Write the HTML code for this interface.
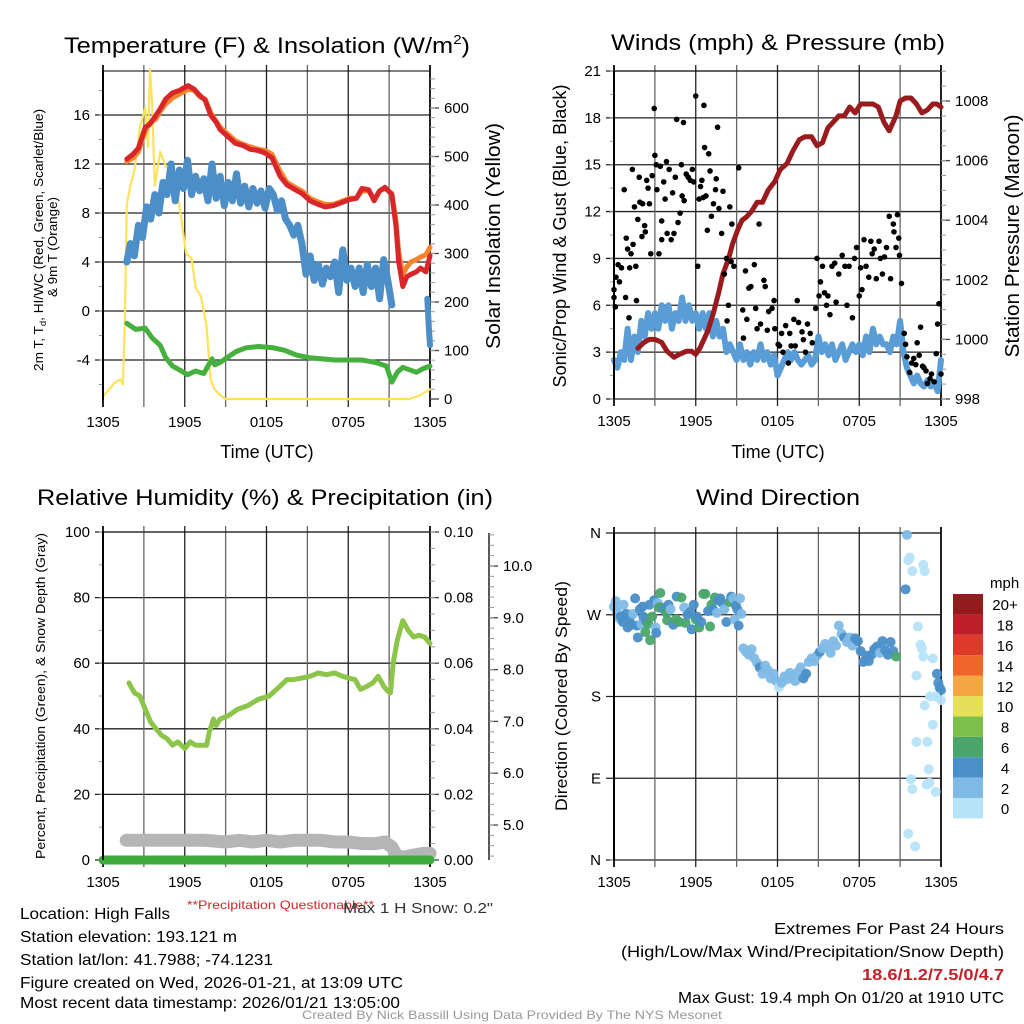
<!DOCTYPE html>
<html><head><meta charset="utf-8"><style>
html,body{margin:0;padding:0;background:#fff;}
svg{display:block;font-family:"Liberation Sans",sans-serif;}
</style></head><body>
<svg id="c" width="1024" height="1024" viewBox="0 0 1024 1024" xmlns="http://www.w3.org/2000/svg">
<g id="p1"></g>
<g id="p2"></g>
<g id="p3"></g>
<g id="p4"></g>
<text x="267" y="53" font-size="22" text-anchor="middle" textLength="406" lengthAdjust="spacingAndGlyphs">Temperature (F) &amp; Insolation (W/m<tspan dy="-9" font-size="13">2</tspan><tspan dy="9">)</tspan></text>
<text x="778" y="50" font-size="22" text-anchor="middle" textLength="334" lengthAdjust="spacingAndGlyphs">Winds (mph) &amp; Pressure (mb)</text>
<text x="265" y="505" font-size="22" text-anchor="middle" textLength="456" lengthAdjust="spacingAndGlyphs">Relative Humidity (%) &amp; Precipitation (in)</text>
<text x="778" y="505" font-size="22" text-anchor="middle" textLength="164" lengthAdjust="spacingAndGlyphs">Wind Direction</text>
<g font-size="16">
<text x="20" y="919" textLength="150" lengthAdjust="spacingAndGlyphs">Location: High Falls</text>
<text x="20" y="942" textLength="217" lengthAdjust="spacingAndGlyphs">Station elevation: 193.121 m</text>
<text x="20" y="965" textLength="253" lengthAdjust="spacingAndGlyphs">Station lat/lon: 41.7988; -74.1231</text>
<text x="20" y="988" textLength="383" lengthAdjust="spacingAndGlyphs">Figure created on Wed, 2026-01-21, at 13:09 UTC</text>
<text x="20" y="1008" textLength="380" lengthAdjust="spacingAndGlyphs">Most recent data timestamp: 2026/01/21 13:05:00</text>
</g>
<g font-size="16" text-anchor="end">
<text x="1004" y="934" textLength="230" lengthAdjust="spacingAndGlyphs">Extremes For Past 24 Hours</text>
<text x="1004" y="957" textLength="383" lengthAdjust="spacingAndGlyphs">(High/Low/Max Wind/Precipitation/Snow Depth)</text>
<text x="1004" y="980" fill="#c8202a" font-weight="bold" textLength="142" lengthAdjust="spacingAndGlyphs">18.6/1.2/7.5/0/4.7</text>
<text x="1004" y="1003" textLength="326" lengthAdjust="spacingAndGlyphs">Max Gust: 19.4 mph On 01/20 at 1910 UTC</text>
</g>
<text x="187" y="909" font-size="12" fill="#d62728" textLength="187" lengthAdjust="spacingAndGlyphs">**Precipitation Questionable**</text>
<text x="343" y="913" font-size="15" fill="#333" textLength="150" lengthAdjust="spacingAndGlyphs">Max 1 H Snow: 0.2"</text>
<text x="512" y="1019" font-size="12" fill="#999" text-anchor="middle" textLength="420" lengthAdjust="spacingAndGlyphs">Created By Nick Bassill Using Data Provided By The NYS Mesonet</text>
</svg>
<script>
// ---------- DATA ----------
const timeTicks = ["1305","1905","0105","0705","1305"];
// Panel 1: temperature (hours since 1305)
const tTemp = [1.75,2.2,2.6,3.1,3.4,3.9,4.2,4.6,5.1,5.6,6.25,6.7,7.1,7.5,7.9,8.3,8.6,9.1,9.7,10.3,10.8,11.4,11.9,12.4,13,13.5,14.1,14.6,15.2,15.8,16.3,16.9,17.4,18.1,18.6,19,19.5,19.9,20.3,20.7,21.2,21.5,21.7,22,22.3,22.6,23,23.3,23.7,24];
const temp2m = [12.4,12.8,13.3,15,15.2,16,16.5,17.3,17.8,18,18.4,18.1,17.6,17.2,16,15.4,14.8,14.3,13.7,13.5,13.2,13.1,12.9,12.5,11,10.3,9.9,9.6,9,8.7,8.5,8.6,8.8,9.1,9.2,10,9.9,9,9.8,10.1,9.5,7,4,2,2.8,3,3.2,3.5,3.2,4.5];
const temp9m = [12.2,12.5,13,14.7,15.3,15.7,16.3,16.9,17.4,17.7,18.1,18,17.5,17.3,16.2,15.5,15,14.5,13.9,13.6,13.4,13.2,13.1,12.8,11.4,10.5,10.1,9.8,9.2,8.9,8.7,8.7,8.9,9.2,9.2,9.8,9.8,9.1,9.8,10,9.6,7.4,4.8,3,3.6,4,4.2,4.4,4.6,5.2];
const tChill = [1.75,2.0,2.3,2.6,2.9,3.2,3.5,3.8,4.1,4.4,4.7,5.0,5.3,5.6,5.9,6.2,6.5,6.8,7.1,7.4,7.7,8.0,8.3,8.6,8.9,9.2,9.5,9.8,10.1,10.4,10.7,11.0,11.3,11.6,11.9,12.2,12.5,12.8,13.1,13.4,13.7,14.0,14.3,14.6,14.9,15.2,15.5,15.8,16.1,16.4,16.7,17.0,17.3,17.6,17.9,18.2,18.5,18.8,19.1,19.4,19.7,20.0,20.3,20.6,20.9,21.2];
const chill = [4,5.5,4.5,7,6,8.5,7.5,9.5,8,10.5,9.5,12,9,11.5,10,12.3,9.5,11,9.8,10.8,9,12,9.2,11,8.6,10.5,9,11.2,8.8,10.2,8.5,10,8.8,9.8,8.4,10,9.5,8.2,9,7.5,7,6.2,7,5.5,3,4.5,2.5,3.8,2.2,3.5,2.8,4,1.5,5,2.5,3.5,2,3.5,1.5,3.8,2,3.5,1,4.2,2.5,0.5];
const tChill2 = [23.8,23.9,24];
const chill2 = [1,-1,-2.8];
const tDew = [1.75,2.4,3.1,3.6,4.2,4.6,5.1,5.6,6.2,6.8,7.4,8.0,8.2,8.6,9.1,9.8,10.5,11.4,12.5,13.3,14.2,15.1,16.0,17.0,18.0,19.0,20.0,20.8,21.2,21.6,22.0,22.5,23.0,23.5,24];
const dew = [-1,-1.5,-1.4,-2.2,-2.8,-3.8,-4.5,-4.8,-5.2,-4.9,-5.1,-3.9,-4.4,-4.2,-3.8,-3.3,-3,-2.9,-3,-3.2,-3.6,-3.8,-3.9,-4,-4,-4,-4.2,-4.5,-5.8,-5,-4.6,-4.8,-5,-4.7,-4.5];
const tSolar = [0,0.9,1.3,1.45,1.6,1.75,2.0,2.3,2.7,3.1,3.3,3.45,3.6,3.8,4.2,4.6,4.9,5.3,5.7,6.1,6.5,6.8,7.2,7.6,7.9,8.2,8.6,9.0,9.5,10,20,22.5,23.3,24];
const solar = [5,35,40,30,150,400,440,470,560,600,520,680,610,440,510,480,470,450,380,300,290,230,210,150,40,20,8,0,0,0,0,0,8,20];
// Panel 2: winds
const tWind = [0,0.25,0.5,0.75,1,1.25,1.5,1.75,2,2.25,2.5,2.75,3,3.25,3.5,3.75,4,4.25,4.5,4.75,5,5.25,5.5,5.75,6,6.25,6.5,6.75,7,7.25,7.5,7.75,8,8.25,8.5,8.75,9,9.25,9.5,9.75,10,10.25,10.5,10.75,11,11.25,11.5,11.75,12,12.25,12.5,12.75,13,13.25,13.5,13.75,14,14.25,14.5,14.75,15,15.25,15.5,15.75,16,16.25,16.5,16.75,17,17.25,17.5,17.75,18,18.25,18.5,18.75,19,19.25,19.5,19.75,20,20.25,20.5,20.75,21,21.25,21.5,21.75,22,22.25,22.5,22.75,23,23.25,23.5,23.75,24];
const sonic = [2.5,2,3,2.5,4.5,2.5,4,3,5,4,5.5,4.5,5.5,4.5,6,5,6,4.5,5.5,5,6.5,5,6,5,5.5,4.5,5.5,4.5,5.5,4,5,4,4.5,3,3.5,3,2.5,3.5,2.5,3,2.2,3,2.5,3.5,2.5,3,2.2,2.8,1.5,2,2.5,3,2.5,3,2.5,2.2,2.5,2.8,2.2,2.5,4,3,3.5,2.8,3.5,2.5,3,3.5,2.5,3,3.5,3,3.5,2.8,4,3,4.5,3.5,4,3.5,3.5,3,4,3.5,5,3,2,1.5,1,1.5,1,0.8,1.2,0.8,1,0.5,2.5];
const gustTime = [0,0,0.1,0.15,0.3,0.4,0.55,0.75,0.85,0.9,1.0,1.1,1.15,1.25,1.35,1.4,1.5,1.6,1.65,1.75,1.85,1.9,2.05,2.1,2.25,2.3,2.4,2.5,2.6,2.7,2.8,2.95,3.0,3.1,3.15,3.3,3.4,3.5,3.5,3.65,3.75,3.85,3.9,4.05,4.2,4.3,4.4,4.5,4.7,4.6,4.85,4.95,5.0,5.1,5.15,5.3,5.45,5.6,5.75,5.85,6.0,6.15,6.25,6.35,6.45,6.55,6.6,6.65,6.75,6.85,6.95,7.05,7.15,7.3,7.45,7.5,7.6,7.7,7.9,8.0,8.1,8.25,8.3,8.4,8.5,8.6,8.65,8.8,9.15,9.45,9.5,9.65,9.75,9.9,10.05,10.3,10.4,10.5,10.65,10.75,11.0,11.1,11.25,11.35,11.6,11.75,11.8,12.05,12.15,12.3,12.4,12.6,12.8,12.9,13.0,13.2,13.3,13.45,13.55,13.8,13.9,14.05,14.2,14.4,14.55,14.8,14.9,15.05,15.15,15.3,15.45,15.6,15.7,15.85,16.0,16.2,16.3,16.5,16.75,16.95,17.1,17.25,17.5,17.65,17.8,18.0,18.1,18.2,18.35,18.5,18.7,18.85,18.95,19.1,19.25,19.45,19.55,19.7,19.85,20.0,20.2,20.3,20.5,20.55,20.7,20.8,20.9,20.95,21.1,21.3,21.4,21.5,21.7,21.85,22.0,22.15,22.25,22.4,22.5,22.65,22.75,22.9,23.0,23.2,23.3,23.5,23.65,23.75,23.85,24.0];
const gustValue = [6.5,7,5.9,7.8,8.6,7.5,8.4,13.4,6.5,10.3,9.6,5.2,8.4,9.3,14.7,9.9,12.3,8.5,6.3,11.5,14.2,12.6,10.4,12.5,11.1,10.7,14,13.5,12.5,9.3,14.3,18.6,15.6,15,13.4,9.3,14.9,11.4,10.2,13.9,12.8,15.2,10.6,14.7,10.2,13.2,10.6,14.2,11.3,17.9,11.9,15,13,17.7,12.7,14.4,14.2,14,14.7,13.9,19.4,8.5,12.8,13.6,14,12.9,18.8,16.1,13,10.8,15.7,14.6,11.7,12.5,13.4,14.1,17.4,12.2,10.6,13.3,8,9,5,6,12.3,8.8,11.2,8.5,14.8,5.7,3.9,8.2,5.1,7.1,7.2,8.6,5.8,4.5,11.2,4.8,7.6,7.2,4.4,5.6,5.8,6.3,4.5,3.5,3.4,4.2,3.0,4.7,2.3,4.2,3.4,5.1,3.4,6.3,4.9,4.3,3.8,3.0,4.8,4.2,3.6,5.8,9.0,6.6,7.5,8.5,6.8,6.0,6.6,5.4,8.5,8.7,6.2,8.0,9.2,8.5,6.0,8.5,5.2,9.0,9.7,6.6,8.4,7.0,10.2,8.5,7.8,10.1,9.3,9.6,7.7,10.1,9.0,8.0,9.1,9.7,11.7,7.7,11.2,10.7,9.7,11.8,10.3,9.2,7.4,4.2,3.5,2.7,1.7,2.3,2.6,2.2,3.6,2.8,4.6,2.1,2.0,1.8,1.0,1.3,1.6,1.1,2.9,4.8,6.1,1.6];
const tPres = [1.75,2.2,2.6,3.0,3.5,3.9,4.4,4.8,5.3,5.7,6.0,6.3,6.6,6.9,7.3,7.7,8.0,8.4,8.7,9.1,9.4,9.7,10.1,10.5,10.9,11.3,11.8,12.2,12.7,13.1,13.6,14.0,14.5,14.9,15.3,15.7,16.1,16.5,16.9,17.3,17.7,18.1,18.5,19.0,19.4,19.8,20.2,20.7,21.0,21.4,21.8,22.2,22.6,23.0,23.4,23.7,24];
const pres = [999.7,999.9,1000,1000,999.9,999.6,999.4,999.5,999.6,999.6,999.5,999.7,1000,1000.3,1000.9,1001.6,1002.2,1002.7,1003.2,1003.7,1004.0,1004.1,1004.3,1004.6,1004.6,1005.0,1005.3,1005.7,1005.9,1006.3,1006.7,1006.8,1006.8,1006.5,1006.6,1007.1,1007.3,1007.5,1007.5,1007.8,1007.6,1007.9,1007.9,1007.9,1007.8,1007.3,1007.0,1007.5,1008.0,1008.1,1008.1,1007.9,1007.6,1007.7,1007.9,1007.9,1007.8];
// Panel 3: humidity / snow / precip
const tRH = [1.9,2.3,2.7,3.1,3.5,3.9,4.3,4.7,5.1,5.5,6.0,6.4,6.8,7.2,7.6,7.8,8.1,8.3,8.6,9.2,9.9,10.6,11.4,12.2,13.0,13.5,14.0,14.6,15.2,15.8,16.4,17.0,17.6,18.0,18.5,18.9,19.4,19.8,20.2,20.6,20.9,21.1,21.3,21.6,22.0,22.4,22.8,23.2,23.6,24];
const rh = [54,51,50,46,42,40,38,37,35,36,34,36,35,35,35,39,43,41,43,44,46,47,49,50,53,55,55,55.5,56,57,56.5,57,56,55.5,55,52,53,54,56,53,51.5,51,60,67,73,70,68,68.5,68,66];
const tSnow = [1.7,3,4.5,6,7.5,9,10,11,12,13,14,15,16,17,18,19,20,20.7,21.2,21.6,22.2,22.8,23.5,24];
const snow = [6,6,6,6,6,5.5,6,5.5,6,5.5,6,6,6,5.5,5.5,5,5,5.5,4,1,1,1.5,2,2];
const tPrecip = [0,24];
const precip = [0,0];
// Panel 4: wind direction
const dirTime = [0,0.13,0.2,0.4,0.5,0.65,0.7,0.9,1.0,1.15,1.3,1.4,1.55,1.7,1.75,1.9,2.0,2.1,2.15,2.3,2.35,2.5,2.6,2.65,2.8,2.95,3.05,3.1,3.2,3.3,3.4,3.5,3.65,3.85,3.9,4.0,4.15,4.35,4.55,4.6,4.8,4.95,5.15,5.25,5.4,5.6,5.7,5.85,6.0,6.1,6.25,6.4,6.55,6.7,6.9,7.05,7.15,7.25,7.4,7.55,7.65,7.8,7.95,8.1,8.25,8.5,8.6,8.75,8.85,8.95,9.05,9.15,9.25,9.35,
9.5,9.7,9.9,10.1,10.3,10.5,10.7,10.9,11.1,11.3,11.5,11.7,11.9,12.1,12.3,12.5,12.7,12.9,13.1,13.3,13.5,13.7,13.9,14.1,14.3,14.5,14.7,14.9,15.1,15.3,15.5,15.7,15.9,16.1,16.3,16.5,16.7,16.9,17.1,17.3,17.5,17.7,17.9,18.1,18.3,18.5,18.7,18.9,19.1,19.3,19.5,19.7,19.9,20.1,20.3,20.5,20.7,
21.5,21.6,21.7,21.9,22.7,22.8,21.4,22.3,22.5,22.6,22.7,23.4,22.2,23.7,23.8,23.9,24.0,23.2,23.6,24.0,22.8,23.4,22.2,23.0,23.1,21.8,21.9,22.95,23.15,23.6,21.6,22.1];
const dirDeg = [279,285,274,266,268,262,281,271,256,266,259,271,288,258,245,276,260,279,268,251,263,260,281,242,268,286,256,250,283,278,294,278,276,272,264,281,276,259,265,290,262,289,278,261,270,273,254,281,265,268,256,262,293,293,274,257,281,276,289,272,286,288,283,276,262,284,290,288,265,280,276,258,288,271,
233,229,226,232,222,217,212,205,214,209,200,205,197,190,195,202,199,206,203,197,207,212,200,205,218,222,219,225,229,233,238,233,228,241,236,258,249,245,240,245,236,244,241,230,218,225,219,226,232,235,228,241,231,226,240,230,224,
358,330,333,318,325,318,298,257,237,233,224,222,203,205,195,190,187,180,180,176,170,149,130,130,100,89,78,83,85,75,29,15];
const dirSpeed = [2,2,2,2,4,4,2,4,4,4,4,2,4,4,4,4,2,4,4,6,4,6,4,6,6,4,2,4,2,6,6,6,4,6,6,4,2,4,6,4,6,6,2,6,4,4,4,4,6,4,6,4,6,6,4,6,6,4,6,2,4,4,4,2,4,6,4,2,2,4,4,4,2,2,
2,2,2,2,2,2,4,2,2,2,2,2,2,0,2,2,2,2,2,2,2,2,4,4,2,2,2,2,4,2,2,2,2,2,2,2,2,4,2,2,2,4,4,4,4,4,4,4,4,4,2,4,4,4,4,4,6,
2,0,0,0,0,0,4,0,0,0,0,0,0,4,4,4,4,0,0,0,0,0,0,0,0,0,0,0,0,0,0,0];
const speedBins = ["0","2","4","6","8","10","12","14","16","18","20+"];
const binColors = ["#b7e3f8","#7fbae6","#4a8fc8","#4aa56b","#7dc04a","#e6df58","#f5a744","#f0652a","#de3a2b","#be1f2a","#931b1e"];

// ---------- DRAWING ----------
const NS="http://www.w3.org/2000/svg";
function mk(parent,tag,attrs,name,inter){const e=document.createElementNS(NS,tag);for(const k in attrs)e.setAttribute(k,attrs[k]);


parent.appendChild(e);return e;}
function txt(parent,x,y,s,size,anchor,name,extra){const t=mk(parent,'text',Object.assign({x:x,y:y,'font-size':size,'text-anchor':anchor||'start'},extra||{}),name,false);t.textContent=s;return t;}
function linScale(d0,d1,r0,r1){return v=>r0+(v-d0)*(r1-r0)/(d1-d0);}
function pathFrom(xs,ys,sx,sy){let d='';for(let i=0;i<xs.length;i++)d+=(i?'L':'M')+sx(xs[i]).toFixed(1)+','+sy(ys[i]).toFixed(1);return d;}
function series(g,xs,ys,sx,sy,color,w,name){return mk(g,'path',{d:pathFrom(xs,ys,sx,sy),fill:'none',stroke:color,'stroke-width':w,'stroke-linejoin':'round','stroke-linecap':'round'},name,false);}

function frame(g,X0,X1,Y0,Y1){
  const sx=linScale(0,24,X0,X1);
  for(let i=0;i<=8;i++){const x=sx(i*3);
    mk(g,'line',{x1:x,x2:x,y1:Y0-6,y2:Y1+7,stroke:i%2?'#666':'#222','stroke-width':(i==0||i==8)?2:1.3},'x-gridline',false);}
  timeTicks.forEach((s,i)=>txt(g,sx(i*6),Y1+27,s,15,'middle','x-tick-label'));
  mk(g,'line',{x1:X0,x2:X1,y1:Y0,y2:Y0,stroke:'#000','stroke-width':1},'plot-top-border',false);
  return sx;
}
function yAxis(g,X0,X1,vals,sy,labels,minorStep,minorFrom,minorTo,name){
  vals.forEach((v,i)=>{const y=sy(v);
    mk(g,'line',{x1:X0-8,x2:X1,y1:y,y2:y,stroke:'#222','stroke-width':1.3},name+'-gridline',false);
    txt(g,X0-13,y+5,labels[i],15,'end',name+'-tick-label');});
  for(let v=minorFrom;v<=minorTo+1e-6;v+=minorStep){const y=sy(v);mk(g,'line',{x1:X0-4,x2:X0,y1:y,y2:y,stroke:'#999','stroke-width':1},name+'-minor-tick',false);}
}
function rAxis(g,X,vals,sy,labels,minorStep,minorFrom,minorTo,name){
  vals.forEach((v,i)=>{const y=sy(v);
    mk(g,'line',{x1:X,x2:X+9,y1:y,y2:y,stroke:'#444','stroke-width':1.3},name+'-tick',false);
    txt(g,X+14,y+5,labels[i],15,'start',name+'-tick-label');});
  for(let v=minorFrom;v<=minorTo+1e-6;v+=minorStep){const y=sy(v);mk(g,'line',{x1:X,x2:X+5,y1:y,y2:y,stroke:'#999','stroke-width':1},name+'-minor-tick',false);}
}
function vtitle(g,x,y,s,size,name,len){const t=txt(g,x,y,s,size,'middle',name,{transform:`rotate(-90 ${x} ${y})`});if(len){t.setAttribute('textLength',len);t.setAttribute('lengthAdjust','spacingAndGlyphs');}return t;}

// Panel 1
(function(){const g=document.getElementById('p1');const X0=103,X1=430,Y0=71,Y1=400;
 const sy=linScale(0,16,311,115), sr=linScale(0,600,399,108);
 const ticks=[-4,0,4,8,12,16];
 yAxis(g,X0,X1,ticks,sy,ticks.map(String),2,-6,18,'temp-axis');
 const sx=frame(g,X0,X1,Y0,Y1);
 rAxis(g,X1,[0,100,200,300,400,500,600],sr,["0","100","200","300","400","500","600"],20,20,660,'solar-axis');
 series(g,tSolar,solar,sx,sr,'#fde35b',2.2,'solar-line');
 series(g,tDew,dew,sx,sy,'#46b03f',5,'dewpoint-line');
 series(g,tChill,chill,sx,sy,'#4b8ec8',7,'windchill-line');
 series(g,tChill2,chill2,sx,sy,'#4b8ec8',6,'windchill-line-end');
 series(g,tTemp,temp9m,sx,sy,'#f5842c',5,'temp-9m-line');
 series(g,tTemp,temp2m,sx,sy,'#d8272b',5,'temp-2m-line');
 mk(g,'line',{x1:X0,x2:X0,y1:Y0,y2:Y1,stroke:'#000','stroke-width':2},'left-border',false);
 txt(g,267,458,'Time (UTC)',18,'middle','x-axis-title');
 const t1=vtitle(g,43,240,'',13,'temp-axis-title',262);
 t1.innerHTML='2m T, T<tspan font-size="9" dy="3">d</tspan><tspan dy="-3">, HI/WC (Red, Green, Scarlet/Blue)</tspan>';
 vtitle(g,57,247,'& 9m T (Orange)',13,'temp-axis-title-2',100);
 vtitle(g,500,236,'Solar Insolation (Yellow)',20,'solar-axis-title',226);
})();
// Panel 2
(function(){const g=document.getElementById('p2');const X0=614,X1=941,Y0=71,Y1=399;
 const sy=linScale(0,21,399,71), sr=linScale(998,1008,399,101);
 const ticks=[0,3,6,9,12,15,18,21];
 yAxis(g,X0,X1,ticks,sy,ticks.map(String),1.5,0,21,'wind-axis');
 const sx=frame(g,X0,X1,Y0,Y1);
 rAxis(g,X1,[998,1000,1002,1004,1006,1008],sr,["998","1000","1002","1004","1006","1008"],0.5,998,1009,'pressure-axis');
 series(g,tWind,sonic,sx,sy,'#5a9dd6',6,'sonic-wind-line');
 series(g,tPres,pres,sx,sr,'#9a1b1d',5,'pressure-line');
 gustTime.forEach((t,i)=>{mk(g,'circle',{cx:sx(t),cy:sy(gustValue[i]),r:2.8,fill:'#000'},'gust-point',false);});
 mk(g,'line',{x1:X0,x2:X0,y1:Y0,y2:Y1,stroke:'#000','stroke-width':2},'left-border',false);
 txt(g,778,458,'Time (UTC)',18,'middle','x-axis-title');
 vtitle(g,566,236,'Sonic/Prop Wind & Gust (Blue, Black)',18,'wind-axis-title',303);
 vtitle(g,1019,236,'Station Pressure (Maroon)',20,'pressure-axis-title',243);
})();
// Panel 3
(function(){const g=document.getElementById('p3');const X0=103,X1=430,Y0=532,Y1=860;
 const sy=linScale(0,100,860,532);
 const ticks=[0,20,40,60,80,100];
 yAxis(g,X0,X1,ticks,sy,ticks.map(String),10,0,100,'percent-axis');
 const sx=frame(g,X0,X1,Y0,Y1);
 rAxis(g,X1,[0,20,40,60,80,100],sy,["0.00","0.02","0.04","0.06","0.08","0.10"],5,0,100,'precip-axis');
 const ss=linScale(5,10,825,566);
 mk(g,'line',{x1:489,x2:489,y1:533,y2:860,stroke:'#222','stroke-width':1.5},'snow-axis-line',false);
 rAxis(g,489,[5,6,7,8,9,10],ss,["5.0","6.0","7.0","8.0","9.0","10.0"],0.2,4.4,10.6,'snow-axis');
 series(g,tSnow,snow,sx,sy,'#b5b5b5',13,'snow-depth-line');
 series(g,tPrecip,precip,sx,sy,'#3eaa3e',9,'precip-line');
 series(g,tRH,rh,sx,sy,'#8dc54b',5,'rh-line');
 mk(g,'line',{x1:X0,x2:X0,y1:Y0,y2:Y1,stroke:'#000','stroke-width':2},'left-border',false);
 vtitle(g,45,696,'Percent, Precipitation (Green), & Snow Depth (Gray)',13,'percent-axis-title',326);
})();
// Panel 4
(function(){const g=document.getElementById('p4');const X0=614,X1=941,Y0=533,Y1=860;
 const sy=linScale(0,360,860,533);
 const ticks=[0,90,180,270,360];
 yAxis(g,X0,X1,ticks,sy,["N","E","S","W","N"],1000,0,0,'direction-axis');
 const sx=frame(g,X0,X1,Y0,Y1);
 dirTime.forEach((t,i)=>{const b=Math.min(10,Math.floor(dirSpeed[i]/2));
   mk(g,'circle',{cx:sx(t),cy:sy(dirDeg[i]),r:5,fill:binColors[b],'fill-opacity':0.95},'direction-point',false);});
 mk(g,'line',{x1:X0,x2:X0,y1:Y0,y2:Y1,stroke:'#000','stroke-width':2},'left-border',false);
 vtitle(g,567,696,'Direction (Colored By Speed)',17,'direction-axis-title',230);
 const lg=mk(g,'g',{},'speed-colorbar',false);
 txt(lg,990,588,'mph',15,'start','colorbar-unit');
 const bh=20.4;
 for(let i=0;i<11;i++){const yTop=594+(10-i)*bh;
   mk(lg,'rect',{x:953,y:yTop,width:30,height:bh,fill:binColors[i]},'colorbar-box',false);
   txt(lg,1005,yTop+bh/2+6,speedBins[i],15,'middle','colorbar-label');}
})();
</script>
</body></html>
